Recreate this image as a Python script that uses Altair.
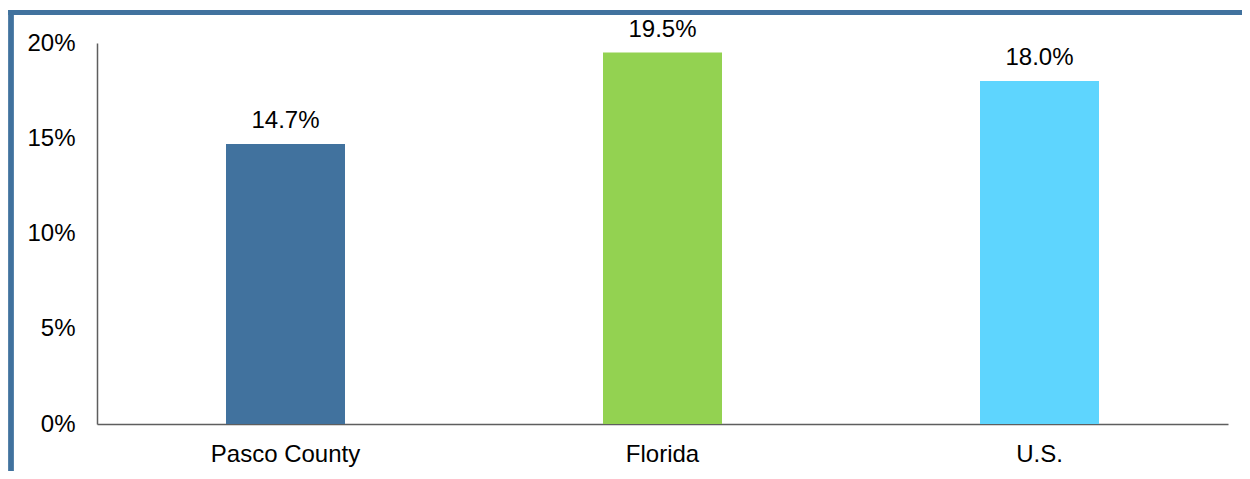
import altair as alt
import pandas as pd

categories = ["Pasco County", "Florida", "U.S."]
values = [0.147, 0.195, 0.180]
colors = ["#41729e", "#93d251", "#5ed5fe"]
y_ticks = [0, 0.05, 0.10, 0.15, 0.20]

df = pd.DataFrame({"region": categories, "value": values, "color": colors})

FONT = "Liberation Sans"
FS = 24

x = alt.X("region:N", sort=categories, title=None,
          scale=alt.Scale(paddingInner=0, paddingOuter=0),
          axis=alt.Axis(labelAngle=0, ticks=False, tickSize=0, labelPadding=18,
                        domainColor="#5e5e5e", domainWidth=1.5,
                        labelFont=FONT, labelFontSize=FS, labelColor="#000000"))
y = alt.Y("value:Q", title=None,
          scale=alt.Scale(domain=[0, 0.2], nice=False),
          axis=alt.Axis(values=y_ticks, format=".0%", grid=False, ticks=False, tickSize=0,
                        labelPadding=22, domainColor="#5e5e5e", domainWidth=1.5,
                        labelFont=FONT, labelFontSize=FS, labelColor="#000000"))

bars = alt.Chart(df).mark_bar(size=119).encode(
    x=x, y=y, color=alt.Color("color:N", scale=None)
)
labels = alt.Chart(df).mark_text(font=FONT, fontSize=FS, color="#000000",
                                 baseline="alphabetic", dy=-16).encode(
    x=alt.X("region:N", sort=categories),
    y=alt.Y("value:Q"),
    text=alt.Text("value:Q", format=".1%"),
)

border_top = alt.Chart(df).mark_rule(color="#41729e", strokeWidth=5).encode(
    x=alt.value(-88.5), x2=alt.value(1300), y=alt.value(-30.5)
)
border_left = alt.Chart(df).mark_rule(color="#41729e", strokeWidth=5).encode(
    x=alt.value(-86), y=alt.value(-33), y2=alt.value(500)
)

chart = alt.layer(border_top, border_left, bars, labels).properties(
    width=1131, height=381,
    autosize=alt.AutoSizeParams(type="none"),
    padding={"left": 89, "top": 35, "right": 14, "bottom": 47},
).configure(background="white").configure_view(stroke=None, strokeWidth=0)

chart.save("out.html", embed_options={"renderer": "svg", "actions": False})
